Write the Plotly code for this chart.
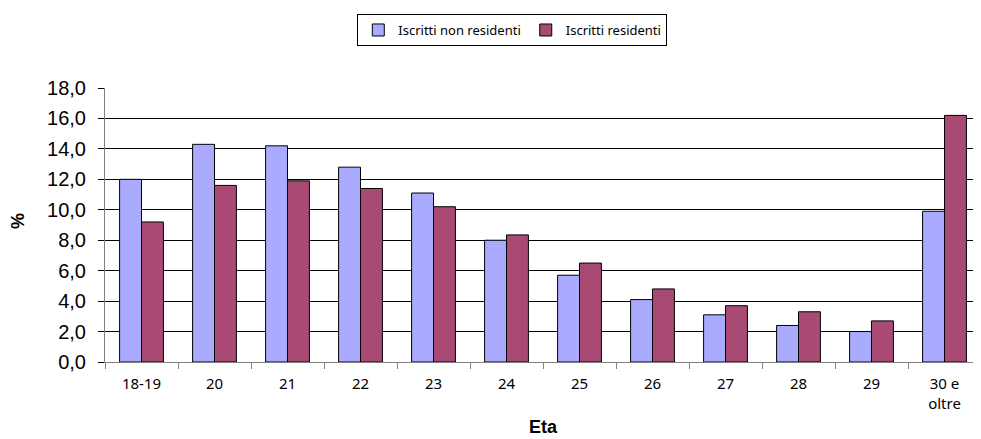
import plotly.graph_objects as go

# Eta classes and share (%) of enrolled students
categories = ["18-19", "20", "21", "22", "23", "24", "25", "26", "27", "28", "29", "30 e<br>oltre"]
non_residenti = [12.0, 14.3, 14.2, 12.8, 11.1, 8.0, 5.7, 4.1, 3.1, 2.4, 2.0, 9.9]
residenti = [9.2, 11.6, 11.9, 11.4, 10.2, 8.35, 6.5, 4.8, 3.7, 3.3, 2.7, 16.2]
y_ticks = [0, 2, 4, 6, 8, 10, 12, 14, 16, 18]

fig = go.Figure()
fig.add_trace(go.Bar(
    x=categories, y=non_residenti, name="Iscritti non residenti",
    marker=dict(color="#AAAAFF", line=dict(color="#000000", width=1)),
))
fig.add_trace(go.Bar(
    x=categories, y=residenti, name="Iscritti residenti",
    marker=dict(color="#A94A74", line=dict(color="#000000", width=1)),
))

# page body has an 8px margin, so the figure is a bit smaller than the window
fig.update_layout(
    width=973, height=431,
    margin=dict(l=97, r=0, t=80, b=77),
    paper_bgcolor="white", plot_bgcolor="white",
    barmode="group", bargap=0.4, bargroupgap=0,
    separators=",.",
    font=dict(family="Liberation Sans, Arial, sans-serif", color="#000000"),
    showlegend=True,
    legend=dict(
        orientation="h", xref="paper", x=0.288, xanchor="left",
        yref="container", y=0.986, yanchor="top",
        bordercolor="#000000", borderwidth=1, bgcolor="white",
        font=dict(family="Noto Sans, sans-serif", size=13), itemwidth=30,
    ),
    xaxis=dict(
        automargin=False,
        showline=True, linecolor="#808080", linewidth=1,
        ticks="outside", tickson="boundaries", ticklen=6, tickcolor="#808080",
        ticklabelstandoff=8,
        tickfont=dict(family="Noto Sans, sans-serif", size=15),
        title=dict(text="<b>Eta</b>", font=dict(size=18), standoff=8),
    ),
    yaxis=dict(
        automargin=False,
        range=[0, 18], tickvals=y_ticks, tickformat=".1f",
        showline=True, linecolor="#808080", linewidth=1,
        ticks="outside", ticklen=6, tickcolor="#000000",
        ticklabelstandoff=8,
        showgrid=True, gridcolor="#000000", gridwidth=1,
        tickfont=dict(size=20),
    ),
)

# y title sits further left than plotly's standoff allows
fig.add_annotation(
    text="<b>%</b>", textangle=-90, font=dict(size=18),
    xref="paper", yref="paper", x=0, y=0.5, xshift=-99, yshift=4,
    showarrow=False,
)

fig.write_html("out.html")
